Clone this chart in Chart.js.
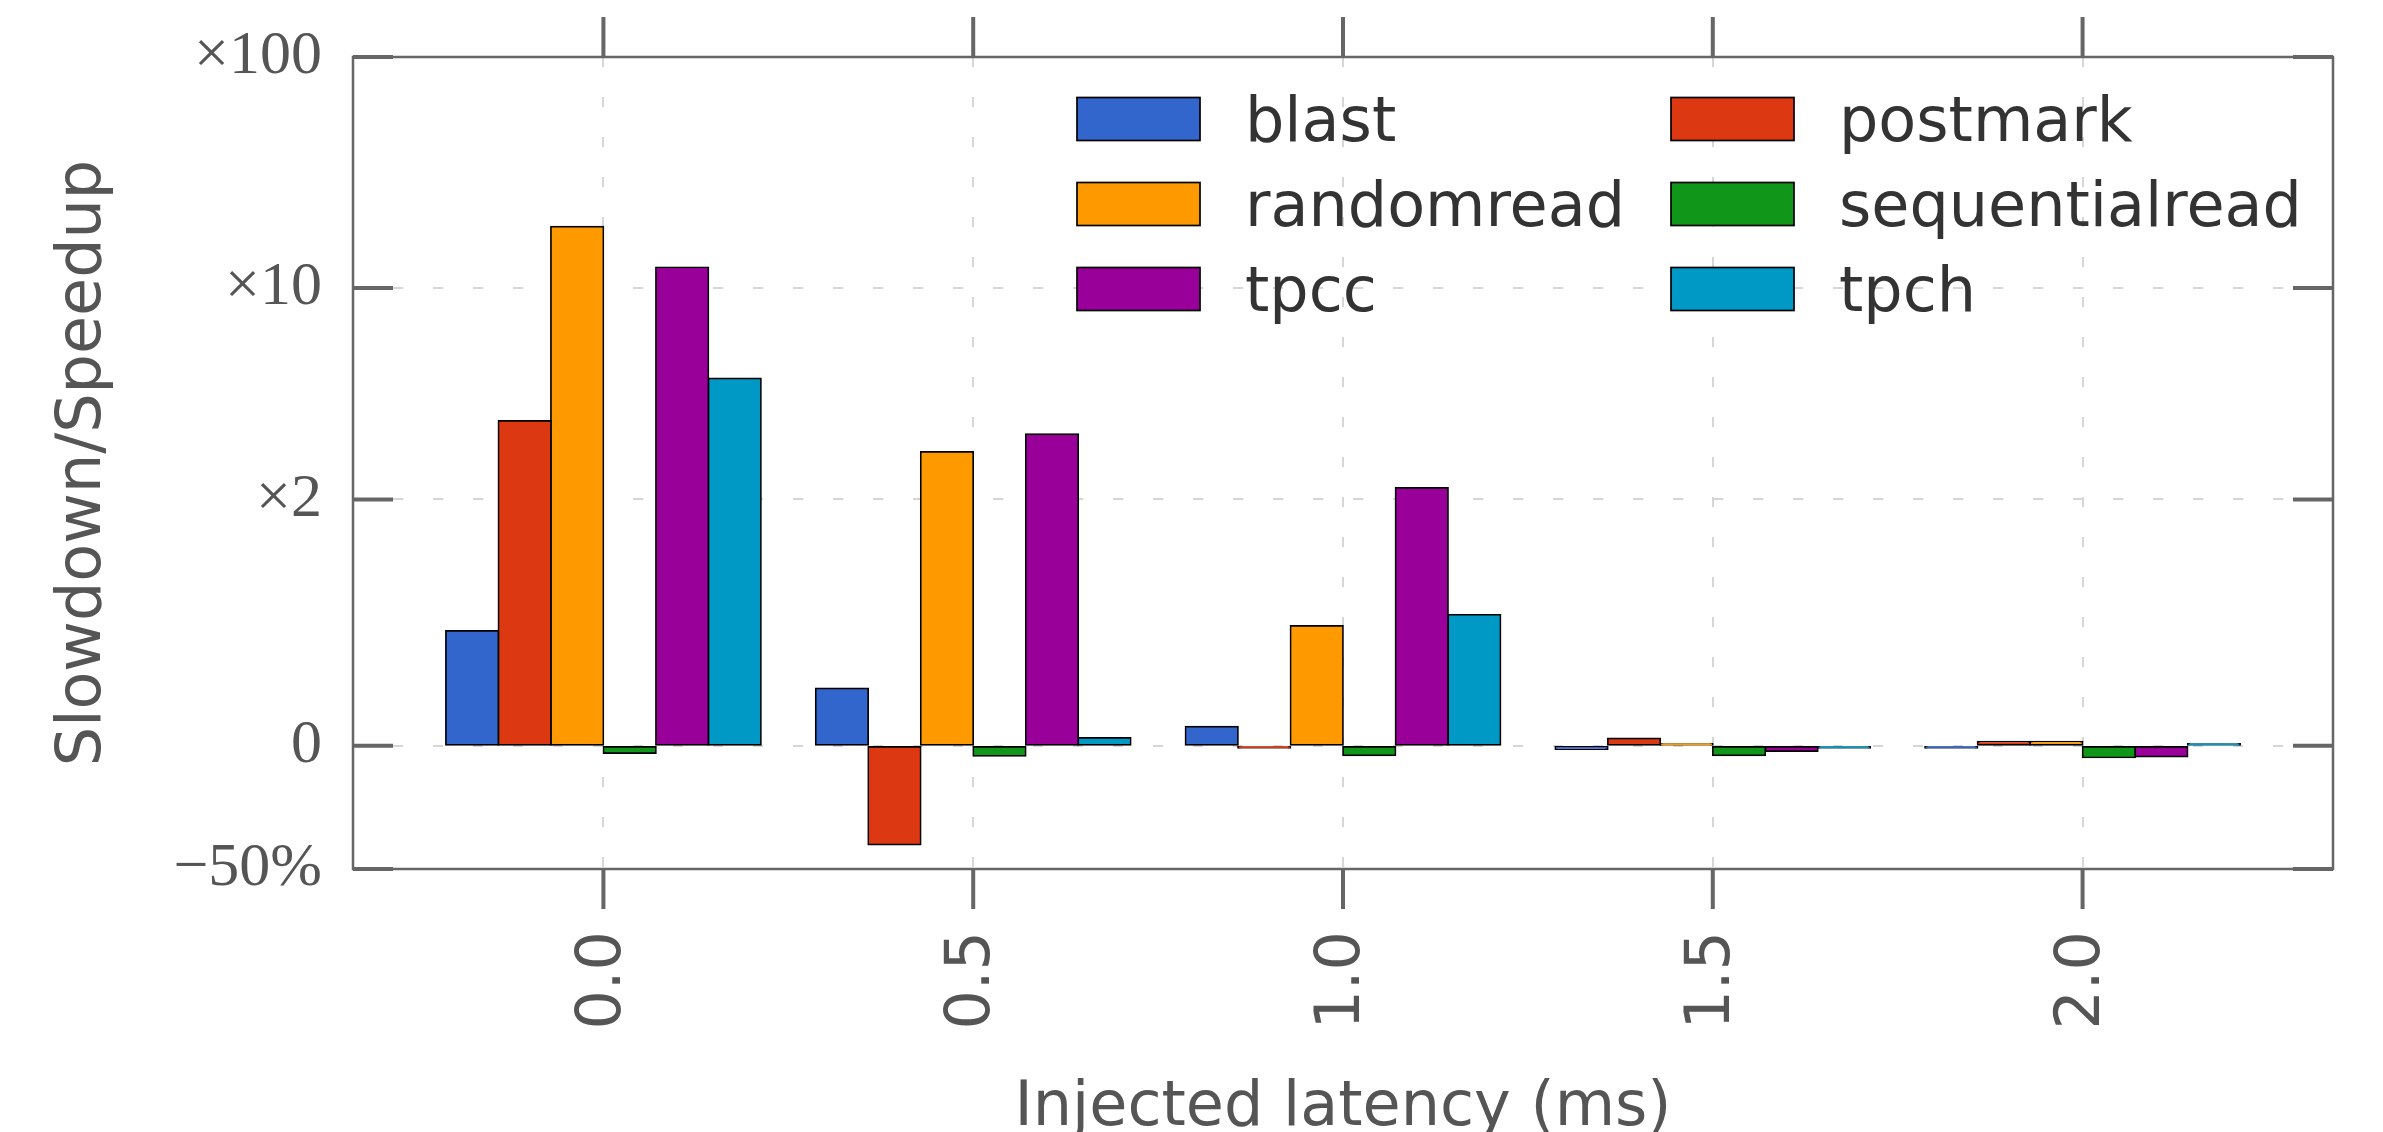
<!DOCTYPE html>
<html>
<head>
<meta charset="utf-8">
<script src="https://cdn.jsdelivr.net/npm/chart.js@4.4.1/dist/chart.umd.min.js"></script>
<style>
  html, body { margin: 0; padding: 0; background: #ffffff; overflow: hidden; }
  canvas { display: block; }
</style>
</head>
<body>
<canvas id="c" width="2383" height="1132"></canvas>
<script>
// ---------------- data ----------------
const latencies = [0.0, 0.5, 1.0, 1.5, 2.0];
const xTickLabels = ['0.0', '0.5', '1.0', '1.5', '2.0'];
const seriesNames = ['blast', 'postmark', 'randomread', 'sequentialread', 'tpcc', 'tpch'];
// relative change (speedup - 1): 1 = x2, 9 = x10, -0.5 = -50%
const blast          = [0.467, 0.233, 0.078, -0.013, -0.004];
const postmark       = [2.26, -0.401, -0.004, 0.030, 0.0175];
const randomread     = [17.0, 1.64, 0.487, 0.002, 0.0175];
const sequentialread = [-0.030, -0.041, -0.039, -0.039, -0.0475];
const tpcc           = [11.15, 1.97, 1.127, -0.0215, -0.0435];
const tpch           = [3.52, 0.0325, 0.532, -0.003, 0.002];
const yTickValues = [-0.5, 0, 1, 9, 99];
const yTickLabels = ['\u221250%', '0', '\u00d72', '\u00d710', '\u00d7100'];

// ---------------- styles ----------------
const seriesColors = ['#3366cc', '#dc3912', '#ff9900', '#109618', '#990099', '#0099c6'];
const seriesValues = [blast, postmark, randomread, sequentialread, tpcc, tpch];

// ---------------- symlog scale (linthresh 1, linscale 1, base 10) ----------------
const LIN = 1 / (1 - 1 / 10);
function symT(v) {
  const a = Math.abs(v);
  if (a <= 1) return v * LIN;
  return Math.sign(v) * (LIN + Math.log10(a));
}
function symInv(t) {
  const a = Math.abs(t);
  if (a <= LIN) return t / LIN;
  return Math.sign(t) * Math.pow(10, a - LIN);
}
class SymlogScale extends Chart.LinearScale {
  buildTicks() {
    return yTickValues.map(v => ({ value: v }));
  }
  configure() {
    super.configure();
    this._tmin = symT(this.min);
    this._tmax = symT(this.max);
  }
  getPixelForValue(v) {
    return this.getPixelForDecimal((symT(v) - this._tmin) / (this._tmax - this._tmin));
  }
  getValueForPixel(p) {
    return symInv(this._tmin + this.getDecimalForPixel(p) * (this._tmax - this._tmin));
  }
}
SymlogScale.id = 'symlog';
SymlogScale.defaults = {};
Chart.register(SymlogScale);

const AXIS_COLOR = '#666666';
const TEXT_COLOR = '#555555';

// frame + tick marks (drawn from the scales)
const framePlugin = {
  id: 'frame',
  afterDraw(chart) {
    const { ctx, chartArea: a, scales } = chart;
    ctx.save();
    ctx.strokeStyle = AXIS_COLOR;
    ctx.lineWidth = 4;
    ctx.setLineDash([]);
    ctx.beginPath();
    scales.y.ticks.forEach(t => {
      const py = scales.y.getPixelForValue(t.value);
      ctx.moveTo(a.left, py); ctx.lineTo(a.left + 40, py);
      ctx.moveTo(a.right - 40, py); ctx.lineTo(a.right, py);
    });
    scales.x.ticks.forEach(t => {
      const px = scales.x.getPixelForValue(t.value);
      ctx.moveTo(px, a.top - 40); ctx.lineTo(px, a.top);
      ctx.moveTo(px, a.bottom); ctx.lineTo(px, a.bottom + 40);
    });
    ctx.stroke();
    ctx.lineWidth = 2.5;
    ctx.strokeRect(a.left, a.top, a.right - a.left, a.bottom - a.top);
    ctx.restore();
  }
};

// two-column legend inside the plot
const legendPlugin = {
  id: 'legend2col',
  afterDatasetsDraw(chart) {
    const { ctx } = chart;
    const colX = [1077, 1671];
    const rowTop = 97.5, rowStep = 85, sw = 123, sh = 43;
    ctx.save();
    ctx.font = '62px "DejaVu Sans"';
    ctx.textBaseline = 'alphabetic';
    ctx.textAlign = 'left';
    chart.data.datasets.forEach((ds, i) => {
      const x = colX[i % 2];
      const y = rowTop + Math.floor(i / 2) * rowStep;
      ctx.fillStyle = ds.backgroundColor;
      ctx.fillRect(x, y, sw, sh);
      ctx.strokeStyle = '#000000';
      ctx.lineWidth = 1.7;
      ctx.strokeRect(x, y, sw, sh);
      ctx.fillStyle = '#333333';
      ctx.fillText(ds.label, x + sw + 45, y + sh);
    });
    ctx.restore();
  }
};

new Chart(document.getElementById('c'), {
  type: 'bar',
  data: {
    labels: latencies,
    datasets: seriesNames.map((name, i) => ({
      label: name,
      data: seriesValues[i],
      backgroundColor: seriesColors[i],
      borderColor: '#000000',
      borderWidth: 1.7,
      inflateAmount: 0.85,
      borderSkipped: false,
      minBarLength: 2,
      categoryPercentage: 0.852,
      barPercentage: 1.0
    }))
  },
  options: {
    responsive: false,
    devicePixelRatio: 1,
    animation: false,
    layout: { padding: { left: 0, right: 50, top: 57, bottom: 0 } },
    plugins: { legend: { display: false }, tooltip: { enabled: false } },
    scales: {
      x: {
        type: 'linear',
        min: -0.3386,
        max: 2.3386,
        offset: false,
        afterBuildTicks: s => { s.ticks = latencies.map(v => ({ value: v })); },
        afterFit: s => { s.height = 1132 - 869; s.paddingLeft = 0; s.paddingRight = 0; },
        grid: { offset: false, color: '#d6d6d6', lineWidth: 2, drawTicks: false, borderDash: [10, 30] },
        border: { display: false, dash: [10, 30] },
        ticks: {
          autoSkip: false,
          minRotation: 90,
          maxRotation: 90,
          padding: 62,
          color: TEXT_COLOR,
          font: { family: 'DejaVu Sans', size: 62 },
          callback: (v, i) => xTickLabels[i]
        },
        title: {
          display: true,
          text: 'Injected latency (ms)',
          color: TEXT_COLOR,
          font: { family: 'DejaVu Sans', size: 62, lineHeight: 0.74 },
          padding: { top: 0, bottom: 0 }
        }
      },
      y: {
        type: 'symlog',
        min: -0.5,
        max: 99,
        afterFit: s => { s.width = 353; s.paddingTop = 0; s.paddingBottom = 0; },
        grid: { color: '#d6d6d6', lineWidth: 2, drawTicks: false, borderDash: [10, 30] },
        border: { display: false, dash: [10, 30] },
        ticks: {
          padding: 31,
          color: TEXT_COLOR,
          font: { family: 'Liberation Serif', size: 62 },
          callback: (v, i) => yTickLabels[i]
        },
        title: {
          display: true,
          text: 'Slowdown/Speedup',
          color: TEXT_COLOR,
          font: { family: 'DejaVu Sans', size: 62, lineHeight: 0.86 },
          padding: { top: 57, bottom: 0 }
        }
      }
    }
  },
  plugins: [framePlugin, legendPlugin]
});
</script>
</body>
</html>
